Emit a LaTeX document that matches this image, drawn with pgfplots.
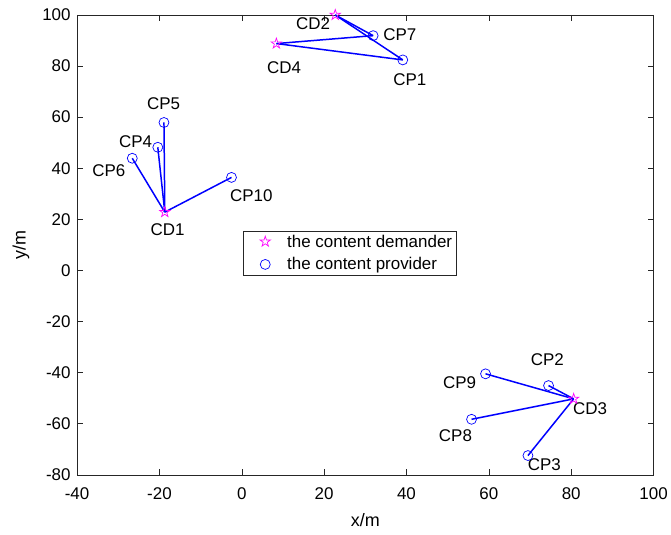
\documentclass[border=0pt]{standalone}
\usepackage{fontspec}
\setmainfont{Liberation Sans}
\usepackage{pgfplots}
\pgfplotsset{compat=1.18}
\pgfdeclareplotmark{pentagram}{%
  \pgfpathmoveto{\pgfpointpolar{90}{\pgfplotmarksize}}%
  \pgfpathlineto{\pgfpointpolar{126}{0.382\pgfplotmarksize}}%
  \pgfpathlineto{\pgfpointpolar{162}{\pgfplotmarksize}}%
  \pgfpathlineto{\pgfpointpolar{198}{0.382\pgfplotmarksize}}%
  \pgfpathlineto{\pgfpointpolar{234}{\pgfplotmarksize}}%
  \pgfpathlineto{\pgfpointpolar{270}{0.382\pgfplotmarksize}}%
  \pgfpathlineto{\pgfpointpolar{306}{\pgfplotmarksize}}%
  \pgfpathlineto{\pgfpointpolar{342}{0.382\pgfplotmarksize}}%
  \pgfpathlineto{\pgfpointpolar{18}{\pgfplotmarksize}}%
  \pgfpathlineto{\pgfpointpolar{54}{0.382\pgfplotmarksize}}%
  \pgfpathclose
  \pgfusepathqstroke}
\definecolor{axgray}{RGB}{38,38,38}
\definecolor{mblue}{RGB}{0,0,255}
\definecolor{mmag}{RGB}{255,0,255}
\begin{document}
\begin{tikzpicture}[font=\fontsize{17}{20}\selectfont]
\begin{axis}[
  scale only axis,
  width=578pt, height=461pt,
  xmin=-40, xmax=100, ymin=-80, ymax=100,
  xtick={-40,-20,...,100}, ytick={-80,-60,...,100},
  tick align=inside,
  major tick length=6pt,
  xtick pos=both, ytick pos=both,
  axis line style={axgray},
  every tick/.style={axgray},
  tick label style={font=\fontsize{17}{20}\selectfont, text=black},
  xticklabel shift=9pt,
  yticklabel shift=3pt,
  /pgf/number format/assume math mode=true,
  xlabel={x/m}, ylabel={y/m},
  label style={font=\fontsize{18}{21}\selectfont},
  xlabel style={yshift=-7pt},
  ylabel style={yshift=6pt},
  legend style={at={(0.288,0.531)}, anchor=north west, draw=axgray,
    font=\fontsize{17}{20}\selectfont, inner sep=2pt, row sep=5pt,
    cells={anchor=west}},
  legend image code/.code={\path[draw=none,fill=none] (0pt,-7pt) rectangle (40pt,7pt); \draw[#1] plot coordinates {(20pt,0pt)};},
]
% connection lines
\addplot[mblue, line width=1.5pt, forget plot] coordinates {(22.7,100) (31.9,91.9)};
\addplot[mblue, line width=1.5pt, forget plot] coordinates {(22.7,100) (39.1,82.4)};
\addplot[mblue, line width=1.5pt, forget plot] coordinates {(8.4,88.8) (31.9,91.9)};
\addplot[mblue, line width=1.5pt, forget plot] coordinates {(8.4,88.8) (39.1,82.4)};
\addplot[mblue, line width=1.5pt, forget plot] coordinates {(-18.7,22.8) (-18.9,57.9)};
\addplot[mblue, line width=1.5pt, forget plot] coordinates {(-18.7,22.8) (-20.4,48.2)};
\addplot[mblue, line width=1.5pt, forget plot] coordinates {(-18.7,22.8) (-26.6,43.9)};
\addplot[mblue, line width=1.5pt, forget plot] coordinates {(-18.7,22.8) (-2.5,36.4)};
\addplot[mblue, line width=1.5pt, forget plot] coordinates {(80.6,-50.3) (74.5,-45.1)};
\addplot[mblue, line width=1.5pt, forget plot] coordinates {(80.6,-50.3) (59.2,-40.5)};
\addplot[mblue, line width=1.5pt, forget plot] coordinates {(80.6,-50.3) (55.8,-58.3)};
\addplot[mblue, line width=1.5pt, forget plot] coordinates {(80.6,-50.3) (69.5,-72.5)};
% demanders
\addplot[only marks, mark=pentagram, mark size=5.5pt, mmag, line width=0.7pt] coordinates {
  (-18.7,22.8) (22.7,100) (80.6,-50.3) (8.4,88.8)};
\addlegendentry{the content demander}
% providers
\addplot[only marks, mark=o, mark size=5pt, mblue, line width=0.7pt] coordinates {
  (39.1,82.4) (74.5,-45.1) (69.5,-72.5) (-20.4,48.2) (-18.9,57.9)
  (-26.6,43.9) (31.9,91.9) (55.8,-58.3) (59.2,-40.5) (-2.5,36.4)};
\addlegendentry{the content provider}
% labels
\node at (axis cs:17.3,96.5) {CD2};
\node at (axis cs:38.4,92.2) {CP7};
\node at (axis cs:40.8,74.6) {CP1};
\node at (axis cs:10.3,79.3) {CD4};
\node at (axis cs:-19.0,65.2) {CP5};
\node at (axis cs:-25.8,50.4) {CP4};
\node at (axis cs:-32.3,39.1) {CP6};
\node at (axis cs:-18.0,16.0) {CD1};
\node at (axis cs:2.3,29.3) {CP10};
\node at (axis cs:74.2,-35.1) {CP2};
\node at (axis cs:52.9,-44.1) {CP9};
\node at (axis cs:84.6,-54.2) {CD3};
\node at (axis cs:51.9,-64.8) {CP8};
\node at (axis cs:73.5,-76.1) {CP3};
\end{axis}
\path (current axis.south west) ++(-77.3pt,-60pt) coordinate (bbsw);
\path (current axis.north east) ++(15.7pt,15pt) coordinate (bbne);
\useasboundingbox (bbsw) rectangle (bbne);
\end{tikzpicture}
\end{document}
